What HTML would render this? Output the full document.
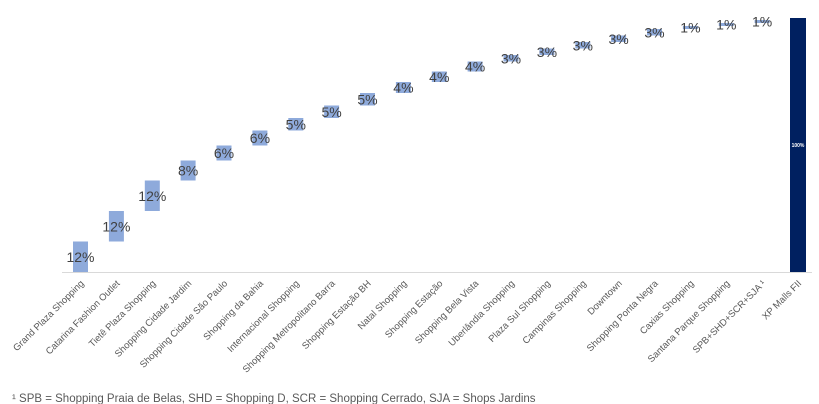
<!DOCTYPE html>
<html><head><meta charset="utf-8"><style>
html,body{margin:0;padding:0;background:#fff;}
svg{display:block;font-family:"Liberation Sans",Arial,sans-serif;}
</style></head><body>
<svg width="819" height="404" viewBox="0 0 819 404" xmlns="http://www.w3.org/2000/svg">
<line x1="62" y1="272.5" x2="812" y2="272.5" stroke="#d9d9d9" stroke-width="1"/>
<g fill="#8eaadb">
<rect x="73" y="241.5" width="15" height="30.5"/>
<rect x="108.9" y="211" width="15" height="30.5"/>
<rect x="144.8" y="180.5" width="15" height="30.5"/>
<rect x="180.6" y="160.5" width="15" height="20"/>
<rect x="216.5" y="145.5" width="15" height="15"/>
<rect x="252.4" y="130.5" width="15" height="15"/>
<rect x="288.3" y="118" width="15" height="12.5"/>
<rect x="324.1" y="105.5" width="15" height="12.5"/>
<rect x="360" y="93" width="15" height="12.5"/>
<rect x="395.9" y="82" width="15" height="11"/>
<rect x="431.8" y="71.5" width="15" height="10.5"/>
<rect x="467.6" y="61.5" width="15" height="10"/>
<rect x="503.5" y="55" width="15" height="6.5"/>
<rect x="539.4" y="48.5" width="15" height="6.5"/>
<rect x="575.3" y="42" width="15" height="6.5"/>
<rect x="611.1" y="35.5" width="15" height="6.5"/>
<rect x="647" y="29" width="15" height="6.5"/>
<rect x="682.9" y="26" width="15" height="3"/>
<rect x="718.8" y="23" width="15" height="3"/>
<rect x="754.6" y="20" width="15" height="3"/>
</g>
<g font-size="14" fill="#404040" text-anchor="middle">
<text x="80.5" y="261.75">12%</text>
<text x="116.4" y="231.25">12%</text>
<text x="152.3" y="200.75">12%</text>
<text x="188.1" y="175.5">8%</text>
<text x="224" y="158">6%</text>
<text x="259.9" y="143">6%</text>
<text x="295.8" y="129.25">5%</text>
<text x="331.6" y="116.75">5%</text>
<text x="367.5" y="104.25">5%</text>
<text x="403.4" y="92.5">4%</text>
<text x="439.3" y="81.75">4%</text>
<text x="475.1" y="71.5">4%</text>
<text x="511" y="63.25">3%</text>
<text x="546.9" y="56.75">3%</text>
<text x="582.8" y="50.25">3%</text>
<text x="618.6" y="43.75">3%</text>
<text x="654.5" y="37.25">3%</text>
<text x="690.4" y="32.5">1%</text>
<text x="726.3" y="29.5">1%</text>
<text x="762.1" y="26.5">1%</text>
</g>
<rect x="790" y="18" width="16" height="254" fill="#002060"/>
<text x="798" y="147" font-size="5" fill="#fff" text-anchor="middle" font-weight="bold">100%</text>
<g font-size="9.5" fill="#595959" text-anchor="end">
<text transform="translate(84.5,284) rotate(-45)">Grand Plaza Shopping</text>
<text transform="translate(120.4,284) rotate(-45)">Catarina Fashion Outlet</text>
<text transform="translate(156.3,284) rotate(-45)">Tietê Plaza Shopping</text>
<text transform="translate(192.1,284) rotate(-45)">Shopping Cidade Jardim</text>
<text transform="translate(228,284) rotate(-45)">Shopping Cidade São Paulo</text>
<text transform="translate(263.9,284) rotate(-45)">Shopping da Bahia</text>
<text transform="translate(299.8,284) rotate(-45)">Internacional Shopping</text>
<text transform="translate(335.6,284) rotate(-45)">Shopping Metropolitano Barra</text>
<text transform="translate(371.5,284) rotate(-45)">Shopping Estação BH</text>
<text transform="translate(407.4,284) rotate(-45)">Natal Shopping</text>
<text transform="translate(443.3,284) rotate(-45)">Shopping Estação</text>
<text transform="translate(479.1,284) rotate(-45)">Shopping Bela Vista</text>
<text transform="translate(515,284) rotate(-45)">Uberlândia Shopping</text>
<text transform="translate(550.9,284) rotate(-45)">Plaza Sul Shopping</text>
<text transform="translate(586.8,284) rotate(-45)">Campinas Shopping</text>
<text transform="translate(622.6,284) rotate(-45)">Downtown</text>
<text transform="translate(658.5,284) rotate(-45)">Shopping Ponta Negra</text>
<text transform="translate(694.4,284) rotate(-45)">Caxias Shopping</text>
<text transform="translate(730.3,284) rotate(-45)">Santana Parque Shopping</text>
<text transform="translate(766.1,284) rotate(-45)">SPB+SHD+SCR+SJA ¹</text>
<text transform="translate(802,284) rotate(-45)">XP Malls FII</text>
</g>
<text x="12" y="402" font-size="11.5" fill="#595959">¹ SPB = Shopping Praia de Belas, SHD = Shopping D, SCR = Shopping Cerrado, SJA = Shops Jardins</text>
</svg>
</body></html>
